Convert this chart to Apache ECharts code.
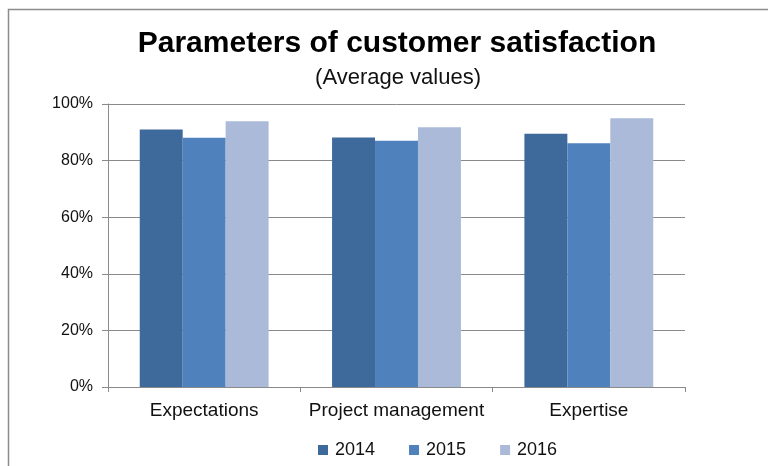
<!DOCTYPE html>
<html>
<head>
<meta charset="utf-8">
<script src="https://cdn.jsdelivr.net/npm/echarts@6/dist/echarts.min.js"></script>
<style>
  html, body { margin: 0; padding: 0; background: #fff; }
  #chart { width: 768px; height: 466px; }
</style>
</head>
<body>
<div id="chart"></div>
<script>
// data
const categories = ['Expectations', 'Project management', 'Expertise']
const years = ['2014', '2015', '2016']
const values2014 = [0.910, 0.882, 0.895]
const values2015 = [0.881, 0.870, 0.861]
const values2016 = [0.939, 0.918, 0.950]
const yTicks = [0, 0.2, 0.4, 0.6, 0.8, 1]

const colors = ['#3e6a9b', '#4f81bd', '#aabad8']
const font = 'Liberation Sans, Arial, sans-serif'
const axisGray = '#8a8a8a'

const chart = echarts.init(document.getElementById('chart'))

const option = {
  animation: false,
  color: colors,
  // outer frame of the chart area
  graphic: [{
    type: 'rect',
    silent: true,
    shape: { x: 8.5, y: 9.5, width: 800, height: 500 },
    style: { fill: 'none', stroke: '#8c8c8c', lineWidth: 1.5 }
  }],
  title: [
    {
      text: 'Parameters of customer satisfaction',
      left: 392,
      textAlign: 'center',
      top: 24,
      textStyle: { fontFamily: font, fontSize: 30, fontWeight: 'bold', color: '#000' }
    },
    {
      text: '(Average values)',
      left: 393,
      textAlign: 'center',
      top: 62,
      textStyle: { fontFamily: font, fontSize: 22, fontWeight: 'normal', color: '#111' }
    }
  ],
  legend: {
    left: 318,
    top: 441,
    padding: 0,
    icon: 'rect',
    itemWidth: 10,
    itemHeight: 10,
    itemGap: 34,
    textStyle: { fontFamily: font, fontSize: 18, color: '#111', padding: [0, 0, 0, 2] },
    data: years
  },
  grid: {
    left: 108,
    right: 83,
    top: 104,
    bottom: 79
  },
  xAxis: {
    type: 'category',
    data: categories,
    axisLine: { lineStyle: { color: axisGray, width: 1 } },
    axisTick: { show: true, interval: 0, length: 5, lineStyle: { color: axisGray } },
    axisLabel: { interval: 0, fontFamily: font, fontSize: 19, color: '#111', margin: 14 }
  },
  yAxis: {
    type: 'value',
    min: 0,
    max: 1,
    interval: 0.2,
    axisLine: { show: true, lineStyle: { color: axisGray, width: 1 } },
    axisTick: { show: true, length: 6, lineStyle: { color: axisGray } },
    splitLine: { lineStyle: { color: axisGray, width: 1 } },
    axisLabel: {
      fontFamily: font,
      fontSize: 16,
      color: '#111',
      margin: 15,
      formatter: (v) => yTicks.includes(v) ? Math.round(v * 100) + '%' : ''
    }
  },
  series: [
    { name: years[0], type: 'bar', data: values2014, barGap: '0%', barCategoryGap: '33%' },
    { name: years[1], type: 'bar', data: values2015, barGap: '0%', barCategoryGap: '33%' },
    { name: years[2], type: 'bar', data: values2016, barGap: '0%', barCategoryGap: '33%' }
  ]
}

chart.setOption(option)
</script>
</body>
</html>
